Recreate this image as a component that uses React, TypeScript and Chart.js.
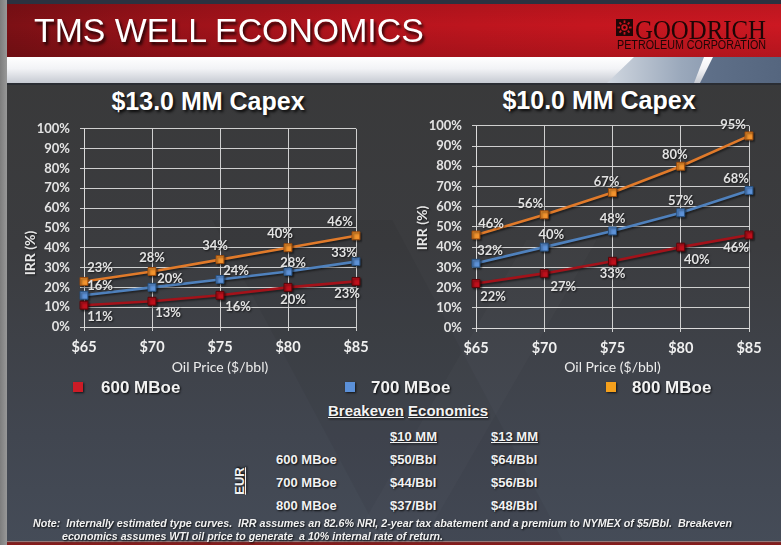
import React, { useEffect, useRef } from 'react';
import { Chart, registerables } from 'chart.js';

Chart.register(...registerables);

// ---------------- DATA ----------------
const OIL_PRICES = ['$65', '$70', '$75', '$80', '$85'];
const SERIES_NAMES = ['600 MBoe', '700 MBoe', '800 MBoe'];

const CAPEX13_600 = [11, 13, 16, 20, 23];
const CAPEX13_700 = [16, 20, 24, 28, 33];
const CAPEX13_800 = [23, 28, 34, 40, 46];

const CAPEX10_600 = [22, 27, 33, 40, 46];
const CAPEX10_700 = [32, 40, 48, 57, 68];
const CAPEX10_800 = [46, 56, 67, 80, 95];

const Y_MIN = 0;
const Y_MAX = 100;
const Y_STEP = 10;

const BREAKEVEN_COLUMNS = ['$10 MM', '$13 MM'];
const BREAKEVEN_ROWS = ['600 MBoe', '700 MBoe', '800 MBoe'];
const BREAKEVEN_10 = ['$50/Bbl', '$44/Bbl', '$37/Bbl'];
const BREAKEVEN_13 = ['$64/Bbl', '$56/Bbl', '$48/Bbl'];

// ---------------- STYLE ----------------
const LINE_COLORS = ['#a3121a', '#4f81bd', '#e07a2a'];
const MARKER_FILL = ['#c0101c', '#5d92d8', '#f3942e'];
const MARKER_BORDER = ['#5a0508', '#26507f', '#9a4a0c'];
const LEGEND_COLORS = ['#cc1b26', '#5b90d8', '#f5a01c'];
const GRID = 'rgba(220,220,220,0.92)';
const CHART_FONT = 'Lato, "Open Sans", sans-serif';
const ARIAL = '"Liberation Sans", Arial, sans-serif';

// label offsets (pixels relative to each point) for the value labels
const LEFT_LABEL_DX = [[16, 16, 18, 5, -9], [16, 18, 16, 5, -12], [16, 0, -5, -8, -16]];
const LEFT_LABEL_DY = [12, -9, -14];
const RIGHT_LABEL_DX = [[17, 19, 0, 16, -13], [14, 7, 0, 0, -13], [15, -14, -6, -6, -16]];
const RIGHT_LABEL_DY = [13, -12, -11];

const lineShadowPlugin = {
  id: 'lineShadow',
  beforeDatasetsDraw(chart: any) {
    const { ctx } = chart;
    ctx.save();
    ctx.shadowColor = 'rgba(0,0,0,0.5)';
    ctx.shadowOffsetX = 1.5;
    ctx.shadowOffsetY = 1.5;
    ctx.shadowBlur = 2;
  },
  afterDatasetsDraw(chart: any) {
    chart.ctx.restore();
  },
};

const valueLabelPlugin = {
  id: 'valueLabels',
  afterDatasetsDraw(chart: any, _args: any, opts: any) {
    const { ctx } = chart;
    ctx.save();
    ctx.font = `bold 13px ${CHART_FONT}`;
    ctx.fillStyle = '#e2e2e2';
    ctx.textAlign = 'center';
    ctx.textBaseline = 'middle';
    ctx.shadowColor = 'rgba(0,0,0,0.7)';
    ctx.shadowOffsetX = 1;
    ctx.shadowOffsetY = 1;
    ctx.shadowBlur = 2;
    chart.data.datasets.forEach((ds: any, di: number) => {
      const meta = chart.getDatasetMeta(di);
      meta.data.forEach((pt: any, i: number) => {
        const dx = opts.dx[di][i];
        const dy = opts.dy[di];
        ctx.fillText(`${ds.data[i]}%`, pt.x + dx, pt.y + dy);
      });
    });
    ctx.restore();
  },
};

const yTitlePlugin = {
  id: 'yTitle',
  afterDraw(chart: any, _args: any, opts: any) {
    const { ctx } = chart;
    ctx.save();
    ctx.translate(opts.x, opts.y);
    ctx.rotate(-Math.PI / 2);
    ctx.font = `bold 14px ${CHART_FONT}`;
    ctx.fillStyle = '#e6e6e6';
    ctx.textAlign = 'center';
    ctx.textBaseline = 'middle';
    ctx.shadowColor = 'rgba(0,0,0,0.6)';
    ctx.shadowOffsetX = 1;
    ctx.shadowOffsetY = 1;
    ctx.shadowBlur = 2;
    ctx.fillText(opts.text, 0, 0);
    ctx.restore();
  },
};

type ChartCfg = {
  series: number[][];
  width: number;
  height: number;
  padRight: number;
  padTop: number;
  yAxisWidth: number;
  xAxisHeight: number;
  labelDx: number[][];
  labelDy: number[];
  yTitleX: number;
  yTitleY: number;
};

function IrrChart({ cfg, style }: { cfg: ChartCfg; style: React.CSSProperties }) {
  const ref = useRef<HTMLCanvasElement | null>(null);
  useEffect(() => {
    if (!ref.current) return;
    const chart = new Chart(ref.current, {
      type: 'line',
      data: {
        labels: OIL_PRICES,
        datasets: cfg.series.map((vals, i) => ({
          label: SERIES_NAMES[i],
          data: vals,
          borderColor: LINE_COLORS[i],
          backgroundColor: MARKER_FILL[i],
          pointBackgroundColor: MARKER_FILL[i],
          pointBorderColor: MARKER_BORDER[i],
          pointBorderWidth: 1,
          pointStyle: 'rect',
          pointRadius: 5.6,
          borderWidth: 2.6,
          tension: 0,
          fill: false,
        })),
      },
      options: {
        animation: false,
        responsive: false,
        devicePixelRatio: 1,
        layout: { padding: { left: 0, right: cfg.padRight, top: cfg.padTop, bottom: 0 } },
        plugins: {
          legend: { display: false },
          tooltip: { enabled: false },
          title: { display: false },
          valueLabels: { dx: cfg.labelDx, dy: cfg.labelDy },
          yTitle: { text: 'IRR (%)', x: cfg.yTitleX, y: cfg.yTitleY },
        } as any,
        scales: {
          x: {
            type: 'category',
            offset: false,
            grid: { color: GRID, lineWidth: 1, tickLength: 4, drawTicks: true },
            border: { color: GRID, width: 1 },
            ticks: {
              color: '#f0f0f0',
              font: { family: CHART_FONT, size: 14.5, weight: 'bold' },
              padding: 8,
              maxRotation: 0,
              autoSkip: false,
            },
            title: {
              display: true,
              text: 'Oil Price ($/bbl)',
              color: '#ececec',
              font: { family: CHART_FONT, size: 14, weight: 'normal' },
              padding: { top: 0, bottom: 4 },
            },
            afterFit: (s: any) => {
              s.height = cfg.xAxisHeight;
            },
          },
          y: {
            min: Y_MIN,
            max: Y_MAX,
            ticks: {
              stepSize: Y_STEP,
              callback: (v: any) => `${v}%`,
              color: '#e4e4e4',
              font: { family: CHART_FONT, size: 13, weight: 'bold' },
              padding: 10,
            },
            grid: { color: GRID, lineWidth: 1, tickLength: 4, drawTicks: true },
            border: { color: GRID, width: 1 },
            afterFit: (s: any) => {
              s.width = cfg.yAxisWidth;
            },
          },
        },
      },
      plugins: [lineShadowPlugin, valueLabelPlugin, yTitlePlugin],
    } as any);
    return () => chart.destroy();
  }, []);
  return (
    <canvas
      ref={ref}
      width={cfg.width}
      height={cfg.height}
      style={{ position: 'absolute', width: cfg.width, height: cfg.height, ...style }}
    />
  );
}

// ---------- text fitting helper ----------
let measureCtx: CanvasRenderingContext2D | null = null;
function fitScale(text: string, font: string, width: number) {
  if (!measureCtx) measureCtx = document.createElement('canvas').getContext('2d');
  if (!measureCtx) return 1;
  measureCtx.font = font;
  const w = measureCtx.measureText(text).width;
  return w > 0 ? width / w : 1;
}

function FitText({
  text, left, cy, size, weight, italic, family, width, color, shadow,
}: {
  text: string; left: number; cy: number; size: number; weight?: string; italic?: boolean;
  family: string; width: number; color: string; shadow?: string;
}) {
  const font = `${italic ? 'italic ' : ''}${weight || 'normal'} ${size}px ${family}`;
  const s = fitScale(text, font, width);
  return (
    <div
      style={{
        position: 'absolute', left, top: cy - size / 2, height: size, lineHeight: `${size}px`,
        font, color, whiteSpace: 'pre', transform: `scaleX(${s})`, transformOrigin: 'left center',
        textShadow: shadow,
      }}
    >
      {text}
    </div>
  );
}

function CenterText({
  text, cx, cy, size, color, shadow, weight, family, underline,
}: {
  text: string; cx: number; cy: number; size: number; color: string; shadow?: string;
  weight?: string; family?: string; underline?: boolean;
}) {
  return (
    <div
      style={{
        position: 'absolute', left: cx - 200, width: 400, top: cy - size / 2, height: size,
        lineHeight: `${size}px`, textAlign: 'center', fontSize: size, fontWeight: (weight || 'bold') as any,
        fontFamily: family || ARIAL, color, textShadow: shadow, whiteSpace: 'pre',
        textDecoration: underline ? 'underline' : 'none',
      }}
    >
      {text}
    </div>
  );
}

function LeftText({
  text, left, cy, size, underline,
}: { text: string; left: number; cy: number; size: number; underline?: boolean }) {
  return (
    <div
      style={{
        position: 'absolute', left, top: cy - size / 2, height: size, lineHeight: `${size}px`,
        fontSize: size, fontWeight: 'bold', fontFamily: ARIAL, color: '#f2f2f2', whiteSpace: 'pre',
        textShadow: '1px 1px 2px rgba(0,0,0,0.85)', textDecoration: underline ? 'underline' : 'none',
      }}
    >
      {text}
    </div>
  );
}

const LEFT_CFG: ChartCfg = {
  series: [CAPEX13_600, CAPEX13_700, CAPEX13_800],
  width: 390, height: 269, padRight: 34, padTop: 4, yAxisWidth: 84, xAxisHeight: 53,
  labelDx: LEFT_LABEL_DX, labelDy: LEFT_LABEL_DY, yTitleX: 30, yTitleY: 142,
};
const RIGHT_CFG: ChartCfg = {
  series: [CAPEX10_600, CAPEX10_700, CAPEX10_800],
  width: 391, height: 272, padRight: 32, padTop: 4, yAxisWidth: 86, xAxisHeight: 52,
  labelDx: RIGHT_LABEL_DX, labelDy: RIGHT_LABEL_DY, yTitleX: 32, yTitleY: 120,
};

const TITLE_SHADOW = '2px 2px 3px rgba(0,0,0,0.85)';

export default function App() {
  const legendX = [[73, 101], [345, 371], [606, 632]];
  const rowsY = [459, 482, 505];
  return (
    <div
      style={{
        position: 'absolute', left: 0, top: 0, width: 781, height: 545, overflow: 'hidden',
        background: 'linear-gradient(180deg, #383838 0%, #3b3c3f 45%, #414650 80%, #454c58 100%)',
        fontFamily: ARIAL,
      }}
    >
      {/* faint watermark shapes */}
      <div style={{ position: 'absolute', left: 300, top: 220, width: 180, height: 330, background: 'rgba(0,0,0,0.045)', transform: 'skewX(28deg)' }} />
      <div style={{ position: 'absolute', left: 440, top: 240, width: 70, height: 300, background: 'rgba(255,255,255,0.02)', transform: 'skewX(-30deg)' }} />

      {/* left border */}
      <div style={{ position: 'absolute', left: 0, top: 0, width: 7, height: 545, background: 'linear-gradient(90deg,#7d7d7d,#989898)' }} />
      {/* top strip */}
      <div style={{ position: 'absolute', left: 7, top: 0, width: 774, height: 4, background: '#2b3240' }} />
      {/* red band */}
      <div
        style={{
          position: 'absolute', left: 7, top: 4, width: 774, height: 53,
          background: 'linear-gradient(90deg, #7c1015 0%, #9a1219 20%, #b5141d 45%, #c5161f 75%, #cc1822 100%)',
        }}
      />
      <div style={{ position: 'absolute', left: 7, top: 4, width: 774, height: 53, background: 'linear-gradient(180deg, rgba(0,0,0,0.08), rgba(0,0,0,0) 40%, rgba(0,0,0,0.12))' }} />
      {/* white band */}
      <div style={{ position: 'absolute', left: 7, top: 57, width: 774, height: 26, background: 'linear-gradient(180deg, #ffffff 0%, #f2f3f6 45%, #c6cad2 100%)' }} />
      {/* slanted blue-gray shapes */}
      <div
        style={{
          position: 'absolute', left: 600, top: 57, width: 181, height: 26,
          background: 'linear-gradient(90deg, #d5dbe3 0%, #9aa8bb 45%, #6f819b 100%)',
          clipPath: 'polygon(7px 26px, 34px 0px, 104px 0px, 94px 26px)',
        }}
      />
      <div
        style={{
          position: 'absolute', left: 600, top: 57, width: 181, height: 26,
          background: 'linear-gradient(90deg, #6c7d96 0%, #55667f 100%)',
          clipPath: 'polygon(100px 26px, 113px 0px, 181px 0px, 181px 26px)',
        }}
      />
      {/* dark separator */}
      <div style={{ position: 'absolute', left: 7, top: 83, width: 774, height: 2, background: '#2a2d33' }} />
      {/* bottom red line */}
      <div style={{ position: 'absolute', left: 7, top: 541, width: 774, height: 4, background: 'linear-gradient(180deg,#a0a0a0 0%, #7a2020 40%, #8a1a1a 100%)' }} />

      {/* header text */}
      <FitText
        text="TMS WELL ECONOMICS" left={34} cy={28} size={34} family={ARIAL} width={391}
        color="#ffffff" shadow="2px 3px 3px rgba(0,0,0,0.75)"
      />
      {/* logo */}
      <svg style={{ position: 'absolute', left: 616, top: 19 }} width={17} height={17} viewBox="0 0 17 17">
        <rect x={0} y={0} width={17} height={17} fill="#1f0707" />
        <circle cx={8.5} cy={8.5} r={3.2} fill="#c8141e" />
        <circle cx={8.5} cy={8.5} r={1.4} fill="#1f0707" />
        {[0, 45, 90, 135, 180, 225, 270, 315].map((a) => (
          <rect key={a} x={7.6} y={1.4} width={1.8} height={2.6} fill="#c8141e" transform={`rotate(${a} 8.5 8.5)`} />
        ))}
      </svg>
      <FitText text="GOODRICH" left={635} cy={27.5} size={28} family='"Liberation Serif", "DejaVu Serif", serif' width={131} color="#1e0606" />
      <FitText text="PETROLEUM CORPORATION" left={617} cy={44} size={12} family={ARIAL} width={149} color="#1e0606" />

      {/* chart titles */}
      <CenterText text="$13.0 MM Capex" cx={208} cy={101} size={25} color="#ffffff" shadow={TITLE_SHADOW} />
      <CenterText text="$10.0 MM Capex" cx={599} cy={100} size={25} color="#ffffff" shadow={TITLE_SHADOW} />

      <IrrChart cfg={LEFT_CFG} style={{ left: 0, top: 111 }} />
      <IrrChart cfg={RIGHT_CFG} style={{ left: 390, top: 108 }} />

      {/* legend */}
      {SERIES_NAMES.map((name, i) => (
        <React.Fragment key={name}>
          <div
            style={{
              position: 'absolute', left: legendX[i][0], top: 382, width: 10, height: 10,
              background: LEGEND_COLORS[i], boxShadow: '1px 1px 2px rgba(0,0,0,0.7)',
            }}
          />
          <LeftText text={name} left={legendX[i][1]} cy={387} size={17} />
        </React.Fragment>
      ))}

      {/* breakeven table */}
      <div
        style={{
          position: 'absolute', left: 328, top: 403, height: 16, lineHeight: '16px', fontSize: 15,
          fontWeight: 'bold', fontFamily: ARIAL, color: '#f2f2f2', whiteSpace: 'pre',
          textShadow: '1px 1px 2px rgba(0,0,0,0.85)',
        }}
      >
        <span style={{ textDecoration: 'underline' }}>Breakeven</span> <span style={{ textDecoration: 'underline' }}>Economics</span>
      </div>
      <LeftText text={BREAKEVEN_COLUMNS[0]} left={390} cy={436} size={13} underline />
      <LeftText text={BREAKEVEN_COLUMNS[1]} left={491} cy={436} size={13} underline />
      {BREAKEVEN_ROWS.map((r, i) => (
        <React.Fragment key={r}>
          <LeftText text={r} left={276} cy={rowsY[i]} size={13} />
          <LeftText text={BREAKEVEN_10[i]} left={390} cy={rowsY[i]} size={13} />
          <LeftText text={BREAKEVEN_13[i]} left={491} cy={rowsY[i]} size={13} />
        </React.Fragment>
      ))}
      <div
        style={{
          position: 'absolute', left: 226, top: 474, width: 28, height: 14, lineHeight: '14px',
          fontSize: 13, fontWeight: 'bold', fontFamily: ARIAL, color: '#f2f2f2', textAlign: 'center',
          transform: 'rotate(-90deg)', textDecoration: 'underline', textShadow: '1px 1px 2px rgba(0,0,0,0.85)',
        }}
      >
        EUR
      </div>

      {/* note */}
      <FitText
        text="Note:  Internally estimated type curves.  IRR assumes an 82.6% NRI, 2-year tax abatement and a premium to NYMEX of $5/Bbl.  Breakeven"
        left={33} cy={522} size={11} weight="bold" italic family={ARIAL} width={699} color="#f2f2f2"
        shadow="1px 1px 2px rgba(0,0,0,0.85)"
      />
      <FitText
        text="economics assumes WTI oil price to generate  a 10% internal rate of return."
        left={62} cy={535} size={11} weight="bold" italic family={ARIAL} width={381} color="#f2f2f2"
        shadow="1px 1px 2px rgba(0,0,0,0.85)"
      />
    </div>
  );
}
